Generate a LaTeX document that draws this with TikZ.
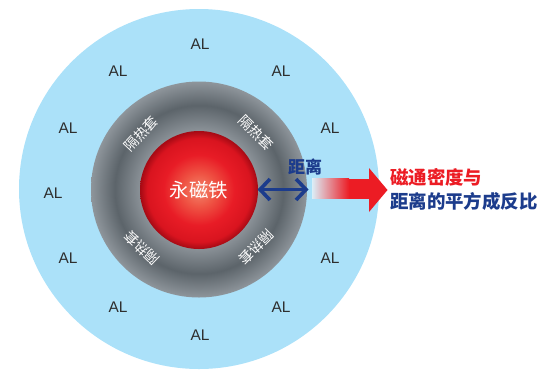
\documentclass[tikz,border=0pt]{standalone}
\usepackage{fontspec}
\setmainfont{Liberation Sans}
\newfontfamily\cjk{Noto Sans CJK SC}
\usetikzlibrary{arrows.meta}
\definecolor{bgblue}{HTML}{ABE1F9}
\definecolor{ringlight}{HTML}{8E959B}
\definecolor{ringdark}{HTML}{5C646A}
\definecolor{ringinner}{HTML}{8A9197}
\definecolor{navy}{HTML}{1C3C8C}
\definecolor{arrred}{HTML}{EC1C24}
\definecolor{altext}{HTML}{2E2E2E}
\definecolor{fadec}{HTML}{DCEEF7}
\definecolor{magc}{HTML}{F3866C}
\definecolor{magm}{HTML}{EF5444}
\definecolor{magr}{HTML}{E81C26}
\definecolor{magrr}{HTML}{D9141F}
\definecolor{magd}{HTML}{A50A14}
\pgfdeclareradialshading{ringshade}{\pgfpoint{0bp}{0bp}}{color(0bp)=(ringinner); color(13.7bp)=(ringinner); color(19.5bp)=(ringdark); color(25bp)=(ringlight); color(50bp)=(ringlight)}
\pgfdeclareradialshading{magshade}{\pgfpoint{0bp}{0bp}}{color(0bp)=(magc); color(7bp)=(magm); color(15bp)=(magr); color(22bp)=(magrr); color(25bp)=(magd); color(50bp)=(magd)}
\tikzset{
  altxt/.style={text=altext, font=\fontsize{15.5}{15.5}\selectfont, inner sep=0},
  shieldtxt/.style={text=white, font=\cjk\fontsize{14}{14}\selectfont, inner sep=0},
  barbtip/.tip={Straight Barb[length=10bp,width=21bp]}
}
\begin{document}
\begin{tikzpicture}[x=1bp,y=-1bp]
\useasboundingbox (0,0) rectangle (541,371);
\node[circle, inner sep=0, minimum size=360bp, fill=bgblue] (outer) at (199,189) {};
\node[circle, inner sep=0, minimum size=216bp, shade, shading=ringshade] (ring) at (199,189.5) {};
\node[circle, inner sep=0, minimum size=118bp, shade, shading=magshade, text=white, font=\cjk\fontsize{19.5}{19.5}\selectfont] (mag) at (199,190) {永磁铁};
% AL labels
\node[altxt] (al1) at (200,44) {AL};
\node[altxt] (al2) at (118,71) {AL};
\node[altxt] (al3) at (281,71) {AL};
\node[altxt] (al4) at (68,128) {AL};
\node[altxt] (al5) at (330,128) {AL};
\node[altxt] (al6) at (53,193) {AL};
\node[altxt] (al7) at (68,258) {AL};
\node[altxt] (al8) at (330,258) {AL};
\node[altxt] (al9) at (118,307) {AL};
\node[altxt] (al10) at (281,307) {AL};
\node[altxt] (al11) at (200,335) {AL};
% shield labels
\node[shieldtxt, rotate=47] (s1) at (141,134) {隔热套};
\node[shieldtxt, rotate=-45] (s2) at (256.5,133) {隔热套};
\node[shieldtxt, rotate=136] (s3) at (142,248) {隔热套};
\node[shieldtxt, rotate=-135] (s4) at (256.5,247.5) {隔热套};
% distance arrow
\coordinate (dl) at (257.5,189.5);
\coordinate (dr) at (308.5,189.5);
\draw[navy, line width=3.6bp, line join=round, line cap=round, barbtip-barbtip] (dl) -- (dr);
\node[text=navy, font=\cjk\bfseries\fontsize{17}{17}\selectfont, inner sep=0] (dist) at (305,167) {距离};
% red arrow
\shade[left color=fadec, right color=arrred] (312,178.5) rectangle (349,198.5);
\fill[arrred] (348.5,178.5) rectangle (370,198.5);
\fill[arrred] (369,168) -- (387.5,190) -- (369,212) -- cycle;
% right text
\node[anchor=west, inner sep=0, text=arrred, font=\cjk\bfseries\fontsize{18.5}{18.5}\selectfont] (t1) at (390,177) {磁通密度与};
\node[anchor=west, inner sep=0, text=navy, font=\cjk\bfseries\fontsize{18.5}{18.5}\selectfont] (t2) at (390,201) {距离的平方成反比};
\end{tikzpicture}
\end{document}
